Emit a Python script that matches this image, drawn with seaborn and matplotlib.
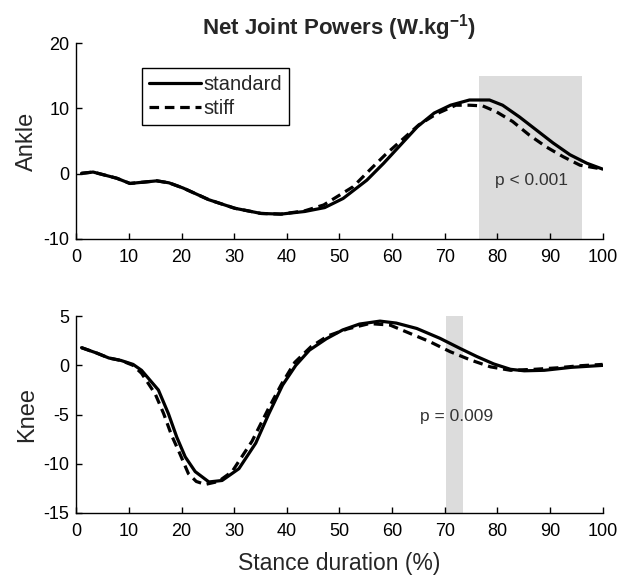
import matplotlib
matplotlib.use("Agg")
import matplotlib.pyplot as plt
import seaborn as sns
import pandas as pd

# ankle power, standard shoe
ankle_std_x = [1, 3.2, 7.7, 10.2, 15.3, 17.6, 20.3, 25.2, 30.1, 35.1, 38.9, 43.4, 47.2, 50.7, 55.2,
               58.4, 61.6, 64.8, 68.0, 71.1, 74.7, 78.5, 81.0, 84.2, 87.4, 90.6, 93.8, 97.0, 100]
ankle_std_y = [0.05, 0.25, -0.7, -1.5, -1.1, -1.4, -2.2, -4.0, -5.3, -6.1, -6.2, -5.8, -5.2, -3.8, -1.0,
               1.6, 4.4, 7.2, 9.3, 10.5, 11.3, 11.3, 10.5, 8.7, 6.7, 4.7, 2.9, 1.6, 0.7]
# ankle power, stiff shoe
ankle_stf_x = [1, 3.2, 7.7, 10.2, 15.3, 17.6, 20.3, 25.2, 30.1, 35.1, 38.9, 43.4, 47.0, 52.6, 55.8,
               58.7, 61.9, 65.1, 68.5, 72.1, 74.7, 77.2, 79.8, 82.9, 86.1, 89.3, 92.5, 95.7, 100]
ankle_stf_y = [0.05, 0.25, -0.7, -1.5, -1.1, -1.4, -2.2, -4.0, -5.3, -6.1, -6.2, -5.7, -4.8, -2.0, 0.6,
               2.9, 5.2, 7.5, 9.2, 10.5, 10.5, 10.4, 9.5, 8.0, 5.9, 4.1, 2.6, 1.3, 0.7]

# knee power, standard shoe
knee_std_x = [1, 3.9, 6.2, 8.5, 10.8, 12.4, 15.6, 17.5, 19.1, 20.7, 22.6, 25.2, 27.7, 30.9, 34.1, 36.6,
              39.2, 41.7, 44.3, 47.5, 50.6, 53.8, 57.7, 60.8, 64.7, 69.1, 73.0, 76.1, 79.3, 82.5,
              85.1, 88.9, 94.0, 100]
knee_std_y = [1.8, 1.25, 0.75, 0.5, 0.1, -0.5, -2.5, -4.9, -7.3, -9.3, -10.8, -11.85, -11.7, -10.5, -7.9,
              -4.9, -2.0, 0.0, 1.55, 2.7, 3.6, 4.2, 4.5, 4.3, 3.75, 2.75, 1.7, 0.9, 0.15, -0.4,
              -0.55, -0.5, -0.2, 0.0]
# knee power, stiff shoe
knee_stf_x = [1, 3.9, 6.2, 8.5, 10.8, 12.4, 15.0, 16.6, 18.1, 19.7, 21.3, 22.8, 24.5, 27.0, 29.6, 33.4,
              36.6, 39.0, 41.5, 44.6, 47.8, 51.5, 55.7, 59.6, 63.4, 67.2, 71.0, 74.9, 78.7, 82.5,
              87.0, 91.4, 95.3, 100]
knee_stf_y = [1.8, 1.25, 0.75, 0.5, 0.0, -0.8, -2.9, -4.9, -7.1, -9.0, -11.0, -11.8, -12.1, -11.8, -10.8,
              -7.7, -4.3, -1.9, 0.3, 1.9, 3.0, 3.7, 4.25, 4.1, 3.25, 2.4, 1.4, 0.55, -0.15, -0.5,
              -0.4, -0.25, -0.05, 0.1]

# significant regions (start, end) and their p values
ankle_band = (76.6, 96.0)
knee_band = (70.3, 73.5)
ankle_p = "p < 0.001"
knee_p = "p = 0.009"


def long_df(sx, sy, tx, ty):
    a = pd.DataFrame({"x": sx, "y": sy, "cond": "standard"})
    b = pd.DataFrame({"x": tx, "y": ty, "cond": "stiff"})
    return pd.concat([a, b], ignore_index=True)


sns.set_style("white")
plt.rcParams.update({
    "font.family": ["Liberation Sans", "DejaVu Sans"],
    "font.size": 13,
    "axes.unicode_minus": False,
    "mathtext.fontset": "custom",
    "mathtext.rm": "Liberation Sans",
    "mathtext.bf": "Liberation Sans:bold",
})

fig = plt.figure(figsize=(6.2, 5.77), dpi=100)
ax1 = fig.add_axes([0.123, 0.586, 0.849, 0.339])
ax2 = fig.add_axes([0.123, 0.111, 0.849, 0.341])

dashes = {"standard": "", "stiff": (3.0, 1.8)}

df_a = long_df(ankle_std_x, ankle_std_y, ankle_stf_x, ankle_stf_y)
df_k = long_df(knee_std_x, knee_std_y, knee_stf_x, knee_stf_y)

ax1.axvspan(ankle_band[0], ankle_band[1], ymin=0, ymax=25 / 30, color="#dcdcdc", lw=0, zorder=0)
ax2.axvspan(knee_band[0], knee_band[1], color="#dcdcdc", lw=0, zorder=0)

sns.lineplot(data=df_a, x="x", y="y", style="cond", dashes=dashes, color="black",
             linewidth=2.3, ax=ax1)
sns.lineplot(data=df_k, x="x", y="y", style="cond", dashes=dashes, color="black",
             linewidth=2.3, ax=ax2, legend=False)

ax1.set_ylim(-10, 20)
ax1.set_yticks([-10, 0, 10, 20])
ax2.set_ylim(-15, 5)
ax2.set_yticks([-15, -10, -5, 0, 5])

for ax in (ax1, ax2):
    ax.set_xlim(0, 100)
    ax.set_xticks(range(0, 101, 10))
    ax.tick_params(direction="in", length=4, width=1, labelsize=13, colors="black",
                   bottom=True, left=True)
    ax.tick_params(axis="x", pad=7)
    ax.tick_params(axis="y", pad=5)
    for s in ("top", "right"):
        ax.spines[s].set_visible(False)
    for s in ("left", "bottom"):
        ax.spines[s].set_color("black")
        ax.spines[s].set_linewidth(1)
    ax.patch.set_alpha(0)

ax1.set_xlabel("")
ax1.set_ylabel("Ankle", fontsize=17, labelpad=4)
ax2.set_ylabel("Knee", fontsize=17, labelpad=4)
ax2.set_xlabel("Stance duration (%)", fontsize=16.5, labelpad=9)

ax1.set_title(r"Net Joint Powers (W.kg$^{\mathbf{-1}}$)", fontsize=16, fontweight="bold", pad=6)

ax1.text(86.5, -1.0, ankle_p, ha="center", va="center", fontsize=12.5, color="#333333")
ax2.text(72.3, -5.2, knee_p, ha="center", va="center", fontsize=12.5, color="#333333")

leg = ax1.legend(loc="upper left", bbox_to_anchor=(0.125, 0.872), borderaxespad=0,
                 fancybox=False, edgecolor="black", framealpha=1, fontsize=14.5,
                 handlelength=2.6, handletextpad=0.1, borderpad=0.35, labelspacing=0.25)
leg.get_frame().set_linewidth(1)

fig.savefig("out.png", dpi=100)
